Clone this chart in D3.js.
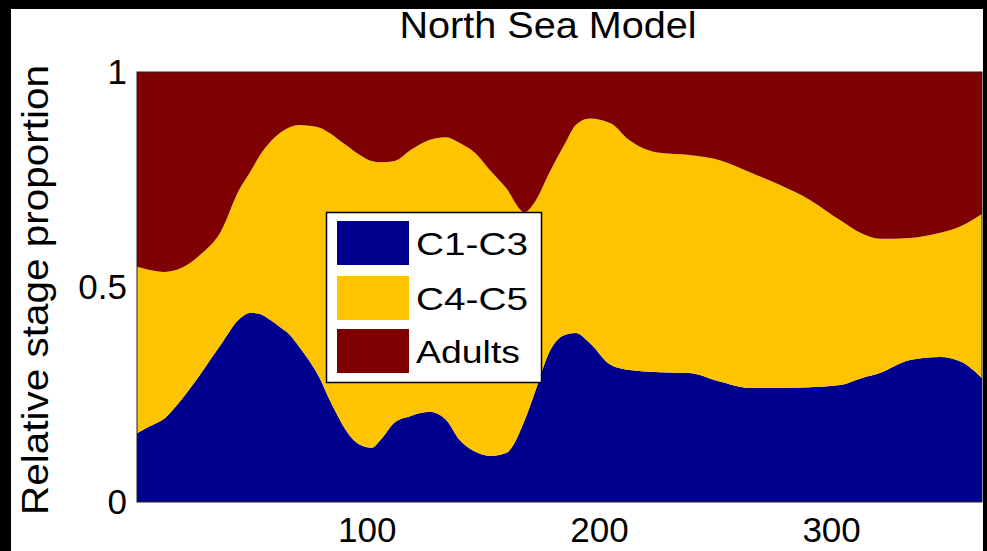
<!DOCTYPE html>
<html>
<head>
<meta charset="utf-8">
<script src="https://cdn.jsdelivr.net/npm/d3@7"></script>
<style>
  html, body { margin: 0; padding: 0; background: #000; }
  svg { display: block; }
  text { font-family: "Liberation Sans", Arial, sans-serif; fill: #000; }
</style>
</head>
<body>
<div id="chart"></div>
<script>
const width = 987;
const height = 551;

// day of year
const days = [1, 6, 13, 20, 28, 37, 45, 50, 54, 58, 63, 67, 71, 75, 80, 84, 88, 91, 97, 102,
    106, 112, 119, 123, 127, 134, 140, 147, 153, 160, 168, 172, 179, 185, 190, 196, 205, 213,
    226, 239, 252, 265, 278, 291, 304, 313, 321, 334, 347, 356, 365];

// relative proportion of each stage
const c1c3 = [.160, .175, .195, .237, .295, .365, .425, .440, .437, .425, .405, .388, .360, .330,
    .285, .237, .195, .167, .133, .126, .145, .185, .200, .207, .210, .192, .144, .116, .107,
    .114, .190, .249, .353, .388, .393, .370, .319, .307, .302, .300, .280, .265, .265, .267,
    .272, .288, .300, .330, .337, .326, .288];
const c4c5 = [.387, .365, .340, .307, .279, .263, .301, .330, .370, .410, .455, .484, .517, .545,
    .585, .621, .647, .663, .674, .667, .645, .608, .619, .625, .632, .656, .691, .694, .665,
    .616, .484, .446, .417, .442, .484, .522, .562, .535, .510, .507, .515, .502, .472, .435,
    .383, .337, .312, .284, .289, .316, .382];
const adults = [.453, .460, .465, .456, .426, .372, .274, .230, .193, .165, .140, .128, .123, .125,
    .130, .142, .158, .170, .193, .207, .210, .207, .181, .168, .158, .152, .165, .190, .228,
    .270, .326, .305, .230, .170, .123, .108, .119, .158, .188, .193, .205, .233, .263, .298,
    .345, .375, .388, .386, .374, .358, .330];

const stages = ["C1-C3", "C4-C5", "Adults"];
const colors = ["#00008F", "#FFC400", "#7F0000"];
const yTicks = [0, 0.5, 1];
const xTicks = [100, 200, 300];

const rows = days.map((d, i) => ({ day: d, "C1-C3": c1c3[i], "C4-C5": c4c5[i], "Adults": adults[i] }));

const svg = d3.select("#chart")
    .append("svg")
    .attr("width", width)
    .attr("height", height);

// black frame, white figure
svg.append("rect").attr("width", width).attr("height", height).attr("fill", "#000");
svg.append("rect").attr("x", 11).attr("y", 9).attr("width", 972).attr("height", height - 9).attr("fill", "#fff");

const plot = { left: 137, right: 982, top: 72, bottom: 502 };

const x = d3.scaleLinear().domain([1, 365]).range([plot.left, plot.right]);
const y = d3.scaleLinear().domain([0, 1]).range([plot.bottom, plot.top]);

const stacked = d3.stack().keys(stages)(rows);

const area = d3.area()
    .x(d => x(d.data.day))
    .y0(d => y(d[0]))
    .y1(d => y(d[1]))
    .curve(d3.curveMonotoneX);

svg.append("g")
    .selectAll("path")
    .data(stacked)
    .join("path")
    .attr("fill", (d, i) => colors[i])
    .attr("d", area);

// axes box
svg.append("rect")
    .attr("x", plot.left).attr("y", plot.top)
    .attr("width", plot.right - plot.left).attr("height", plot.bottom - plot.top)
    .attr("fill", "none").attr("stroke", "#222").attr("stroke-width", 1);

const yAxis = svg.append("g")
    .attr("transform", `translate(${plot.left},0)`)
    .call(d3.axisLeft(y).tickValues(yTicks).tickSize(0).tickPadding(10).tickFormat(d3.format("")));
const xAxis = svg.append("g")
    .attr("transform", `translate(0,${plot.bottom})`)
    .call(d3.axisBottom(x).tickValues(xTicks).tickSize(0).tickPadding(15));

[yAxis, xAxis].forEach(a => {
    a.select(".domain").remove();
    a.selectAll("text")
        .attr("fill", "#000")
        .style("font-family", '"Liberation Sans", Arial, sans-serif')
        .style("font-size", "35px");
});

// title and y label (stretched a bit, like the original font)
svg.append("text")
    .attr("x", 548).attr("y", 38)
    .attr("text-anchor", "middle")
    .attr("textLength", 297).attr("lengthAdjust", "spacingAndGlyphs")
    .style("font-size", "36px")
    .text("North Sea Model");

svg.append("text")
    .attr("transform", "translate(48,290) rotate(-90)")
    .attr("text-anchor", "middle")
    .attr("textLength", 450).attr("lengthAdjust", "spacingAndGlyphs")
    .style("font-size", "36px")
    .text("Relative stage proportion");

// legend
const legend = svg.append("g");
legend.append("rect")
    .attr("x", 326.5).attr("y", 212.5).attr("width", 215).attr("height", 170)
    .attr("fill", "#fff").attr("stroke", "#000").attr("stroke-width", 1.5);

const rowsY = [221, 276, 329];
const labelLen = [112, 112, 104];
stages.forEach((s, i) => {
    legend.append("rect")
        .attr("x", 337).attr("y", rowsY[i]).attr("width", 72).attr("height", 44)
        .attr("fill", colors[i]);
    legend.append("text")
        .attr("x", 416).attr("y", rowsY[i] + 34)
        .attr("textLength", labelLen[i]).attr("lengthAdjust", "spacingAndGlyphs")
        .style("font-size", "32px")
        .text(s);
});
</script>
</body>
</html>
